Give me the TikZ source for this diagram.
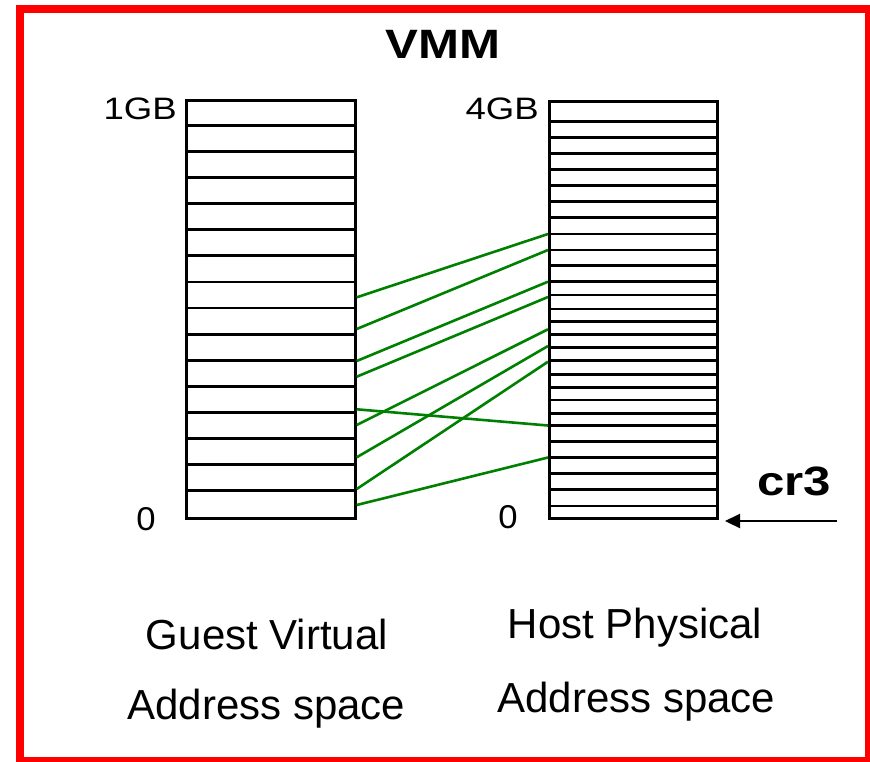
\documentclass[tikz,border=0pt]{standalone}
\usepackage{fontspec}
\setmainfont{Liberation Sans}
\usetikzlibrary{arrows.meta}
\definecolor{frame}{RGB}{255,0,0}
\definecolor{mapgreen}{RGB}{0,128,0}
% horizontally widened text
\newcommand{\widetext}[2]{\scalebox{#1}[1]{#2}}
\begin{document}
\begin{tikzpicture}[x=1pt,y=-1pt,
  grid/.style={black,line width=2.8pt},
  mapline/.style={mapgreen,line width=2.6pt},
  bigbold/.style={inner sep=0pt,anchor=base,font=\fontsize{41}{48}\selectfont\bfseries},
  marklabel/.style={inner sep=0pt,font=\fontsize{31}{36}\selectfont},
  caption/.style={inner sep=0pt,anchor=base,font=\fontsize{42}{48}\selectfont}]
\useasboundingbox (0,0) rectangle (870,761);
\clip (0,0) rectangle (870,761);
\fill[white] (0,0) rectangle (870,761);
% outer frame
\draw[frame,line width=8pt] (20,9) rectangle (869,761);

\node[bigbold] (title) at (443.3,58.3) {\widetext{1.2}{VMM}};

% guest virtual address space: 16 equal pages
\node[draw,grid,minimum width=169pt,minimum height=417.4pt,inner sep=0pt,anchor=north west] (gva) at (185,99.3) {};
\foreach \i in {1,...,15}
  \draw[grid] ([yshift=-\i*26.09pt]gva.north west) -- ([yshift=-\i*26.09pt]gva.north east);

% host physical address space
\node[draw,grid,minimum width=168pt,minimum height=417pt,inner sep=0pt,anchor=north west] (hpa) at (548,100) {};
\foreach \y in {121.7,137.7,153.3,169.3,185.3,201.7,217.7,234,250,265.5,281.7,295,309,321.7,334.3,347.7,360.7,374.3,387.3,400,413.3,425.3,441.7,457.3,473.3,489.3,506}
  \draw[grid] (548,\y) -- (716,\y);

% address labels
\node[marklabel,anchor=base east] (gtop) at (177,119) {\widetext{1.18}{1GB}};
\node[marklabel,anchor=base east] (htop) at (539,119) {\widetext{1.18}{4GB}};
\node[marklabel,anchor=base,font=\fontsize{33}{36}\selectfont] (gzero) at (146,530) {\widetext{1.05}{0}};
\node[marklabel,anchor=base,font=\fontsize{33}{36}\selectfont] (hzero) at (508,528.5) {\widetext{1.05}{0}};

% page mappings
\coordinate (g1) at (356.7,297.3); \coordinate (h1) at (548,234);
\coordinate (g2) at (356.7,329);   \coordinate (h2) at (548,250);
\coordinate (g3) at (356.7,361);   \coordinate (h3) at (548,281.7);
\coordinate (g4) at (356.7,376.7); \coordinate (h4) at (548,297);
\coordinate (g5) at (356.7,409.3); \coordinate (h5) at (548,425.5);
\coordinate (g6) at (356.7,425);   \coordinate (h6) at (548,329.3);
\coordinate (g7) at (356.7,457.3); \coordinate (h7) at (548,346);
\coordinate (g8) at (356.7,489);   \coordinate (h8) at (548,361.7);
\coordinate (g9) at (356.7,505);   \coordinate (h9) at (548,457.5);
\foreach \k in {1,...,9}
  \draw[mapline] (g\k) -- (h\k);

% cr3 pointer
\node[bigbold,anchor=base west,font=\fontsize{41}{48}\selectfont\bfseries] (cr3) at (757,495) {\widetext{1.2}{cr3}};
\coordinate (cr3tail) at (836.7,521);
\coordinate (cr3head) at (725,521);
\draw[line width=2.2pt,-{Triangle[length=15pt,width=14pt]}] (cr3tail) -- (cr3head);

% captions
\node[caption] (gcap1) at (267,649) {Guest Virtual};
\node[caption] (gcap2) at (266.5,719) {Address space};
\node[caption] (hcap1) at (635,638) {Host Physical};
\node[caption] (hcap2) at (636.5,712) {Address space};
\end{tikzpicture}
\end{document}
